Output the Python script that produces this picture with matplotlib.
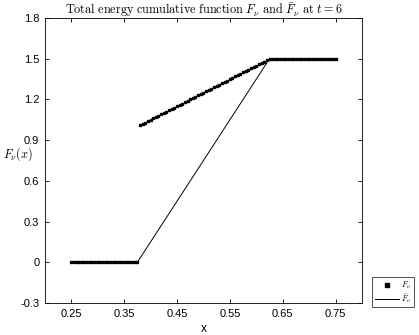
import matplotlib
matplotlib.use("Agg")
import matplotlib.pyplot as plt

plt.rcParams["font.family"] = "Liberation Sans"
plt.rcParams["mathtext.fontset"] = "cm"

# F_nu sampled values
x_pts = [0.250, 0.255, 0.260, 0.265, 0.270, 0.275, 0.280, 0.285, 0.290, 0.295,
         0.300, 0.305, 0.310, 0.315, 0.320, 0.325, 0.330, 0.335, 0.340, 0.345,
         0.350, 0.355, 0.360, 0.365, 0.370, 0.375,
         0.380, 0.385, 0.390, 0.395, 0.400, 0.405, 0.410, 0.415, 0.420, 0.425,
         0.430, 0.435, 0.440, 0.445, 0.450, 0.455, 0.460, 0.465, 0.470, 0.475,
         0.480, 0.485, 0.490, 0.495, 0.500, 0.505, 0.510, 0.515, 0.520, 0.525,
         0.530, 0.535, 0.540, 0.545, 0.550, 0.555, 0.560, 0.565, 0.570, 0.575,
         0.580, 0.585, 0.590, 0.595, 0.600, 0.605, 0.610, 0.615, 0.620, 0.625,
         0.630, 0.635, 0.640, 0.645, 0.650, 0.655, 0.660, 0.665, 0.670, 0.675,
         0.680, 0.685, 0.690, 0.695, 0.700, 0.705, 0.710, 0.715, 0.720, 0.725,
         0.730, 0.735, 0.740, 0.745, 0.750]
F_pts = [0, 0, 0, 0, 0, 0, 0, 0, 0, 0,
         0, 0, 0, 0, 0, 0, 0, 0, 0, 0,
         0, 0, 0, 0, 0, 0,
         1.01, 1.02, 1.03, 1.04, 1.05, 1.06, 1.07, 1.08, 1.09, 1.10,
         1.11, 1.12, 1.13, 1.14, 1.15, 1.16, 1.17, 1.18, 1.19, 1.20,
         1.21, 1.22, 1.23, 1.24, 1.25, 1.26, 1.27, 1.28, 1.29, 1.30,
         1.31, 1.32, 1.33, 1.34, 1.35, 1.36, 1.37, 1.38, 1.39, 1.40,
         1.41, 1.42, 1.43, 1.44, 1.45, 1.46, 1.47, 1.48, 1.49, 1.50,
         1.5, 1.5, 1.5, 1.5, 1.5, 1.5, 1.5, 1.5, 1.5, 1.5,
         1.5, 1.5, 1.5, 1.5, 1.5, 1.5, 1.5, 1.5, 1.5, 1.5,
         1.5, 1.5, 1.5, 1.5, 1.5]

# F_bar_nu piecewise linear
x_bar = [0.25, 0.375, 0.625, 0.75]
F_bar = [0, 0, 1.5, 1.5]

xticks = [0.25, 0.35, 0.45, 0.55, 0.65, 0.75]
yticks = [-0.3, 0, 0.3, 0.6, 0.9, 1.2, 1.5, 1.8]
ytick_labels = ["-0.3", "0", "0.3", "0.6", "0.9", "1.2", "1.5", "1.8"]

fig = plt.figure(figsize=(4.19, 3.35), dpi=100)
ax = fig.add_axes([0.107, 0.0955, 0.757, 0.8505])

ax.plot(x_pts, F_pts, linestyle="none", marker="s", markersize=1.8,
        color="black", label=r"$F_\nu$")
ax.plot(x_bar, F_bar, color="black", linewidth=0.7, label=r"$\bar{F}_\nu$")

ax.set_xlim(0.2, 0.8)
ax.set_ylim(-0.3, 1.8)
ax.set_xticks(xticks)
ax.set_xticklabels([f"{t:.2f}" for t in xticks])
ax.set_yticks(yticks)
ax.set_yticklabels(ytick_labels)
ax.tick_params(direction="in", top=True, right=True, labelsize=8,
               length=3, width=0.6, pad=4)
for s in ax.spines.values():
    s.set_linewidth(0.6)

ax.set_title(r"$\mathrm{Total\ energy\ cumulative\ function}\ F_\nu\ \mathrm{and}\ \bar{F}_\nu\ \mathrm{at}\ t=6$",
             fontsize=8.8, pad=3)
ax.set_xlabel("x", fontsize=8.5, labelpad=3)
ax.set_ylabel(r"$F_\nu(x)$", rotation=0, fontsize=8.8, labelpad=2)
ax.yaxis.set_label_coords(-0.085, 0.49)

leg = fig.legend(loc="upper left", bbox_to_anchor=(0.888, 0.173),
                 bbox_transform=fig.transFigure, borderaxespad=0,
                 fontsize=6, frameon=True, fancybox=False,
                 edgecolor="black", handlelength=2.9, handletextpad=0.3,
                 borderpad=0.3, labelspacing=0.15, markerscale=1.3)
leg.get_frame().set_linewidth(0.6)

fig.savefig("out.png", dpi=100)
